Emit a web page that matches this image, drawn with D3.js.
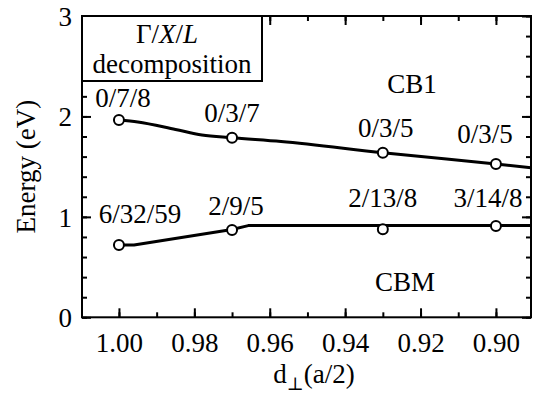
<!DOCTYPE html>
<html>
<head>
<meta charset="utf-8">
<script src="https://cdn.jsdelivr.net/npm/d3@7"></script>
<style>
  html, body { margin: 0; padding: 0; background: #fff; }
  svg { display: block; }
  svg text { font-family: "Liberation Serif", Tinos, "Times New Roman", Times, "DejaVu Serif", "Noto Serif", serif !important; fill: #000; }
</style>
</head>
<body>
<svg id="chart" width="537" height="396"></svg>
<script>
// Sampled spacings d_perp (units of a/2)
const spacings = [1.00, 0.97, 0.93, 0.90];

// Band energies (eV) at the sampled spacings
const cb1Energy = [1.965, 1.788, 1.639, 1.526];
const cbmEnergy = [0.72, 0.87, 0.876, 0.91];

// Gamma/X/L decomposition labels
const cb1Labels = ["0/7/8", "0/3/7", "0/3/5", "0/3/5"];
const cbmLabels = ["6/32/59", "2/9/5", "2/13/8", "3/14/8"];

// Continuous band curves
const cb1CurveX = [1.00, 0.995, 0.985, 0.978, 0.97, 0.957, 0.93, 0.90, 0.8907];
const cb1CurveE = [1.965, 1.945, 1.87, 1.815, 1.788, 1.75, 1.639, 1.526, 1.49];
const cbmCurveX = [1.00, 0.996, 0.97, 0.9657, 0.8907];
const cbmCurveE = [0.72, 0.72, 0.875, 0.913, 0.913];

// Axis ticks
const xMajor = [1.00, 0.98, 0.96, 0.94, 0.92, 0.90];
const xMinor = [1.00, 0.99, 0.98, 0.97, 0.96, 0.95, 0.94, 0.93, 0.92, 0.91, 0.90];
const yMajor = [0, 1, 2, 3];
const yMinor = [0, 0.2, 0.4, 0.6, 0.8, 1, 1.2, 1.4, 1.6, 1.8, 2, 2.2, 2.4, 2.6, 2.8, 3];

// Label nudges (pixels) relative to each marker
const cb1LabelShift = [[4, -13], [0, -16], [3, -16], [-11, -21]];
const cbmLabelShift = [[21, -22], [4, -15], [0, -22], [-8, -19]];

const FONT = 27;
const L = 82, R = 531, T = 16, B = 317.3;

const svg = d3.select("#chart");
const x = d3.scaleLinear().domain([1.0098, 0.8907]).range([L, R]);
const y = d3.scaleLinear().domain([0, 3]).range([B, T]);

function styleAxis(g) {
  g.attr("font-family", null).attr("font-size", null);
  g.select(".domain").remove();
  g.selectAll(".tick line").attr("stroke", "#000").attr("stroke-width", 2);
}

// minor ticks (all four sides, pointing inward)
svg.append("g").attr("transform", `translate(0,${B})`)
  .call(d3.axisBottom(x).tickValues(xMinor).tickSize(-5).tickFormat(""))
  .call(styleAxis);
svg.append("g").attr("transform", `translate(0,${T})`)
  .call(d3.axisTop(x).tickValues(xMinor).tickSize(-5).tickFormat(""))
  .call(styleAxis);
svg.append("g").attr("transform", `translate(${L},0)`)
  .call(d3.axisLeft(y).tickValues(yMinor).tickSize(-5).tickFormat(""))
  .call(styleAxis);
svg.append("g").attr("transform", `translate(${R},0)`)
  .call(d3.axisRight(y).tickValues(yMinor).tickSize(-5).tickFormat(""))
  .call(styleAxis);

// major ticks
const xb = svg.append("g").attr("transform", `translate(0,${B})`)
  .call(d3.axisBottom(x).tickValues(xMajor).tickSize(-9).tickPadding(0).tickFormat(d3.format(".2f")))
  .call(styleAxis);
xb.selectAll(".tick text").attr("y", 35).attr("dy", null)
  .style("font-size", FONT + "px");
svg.append("g").attr("transform", `translate(0,${T})`)
  .call(d3.axisTop(x).tickValues(xMajor).tickSize(-9).tickFormat(""))
  .call(styleAxis);
const yl = svg.append("g").attr("transform", `translate(${L},0)`)
  .call(d3.axisLeft(y).tickValues(yMajor).tickSize(-9).tickFormat(d3.format("d")))
  .call(styleAxis);
yl.selectAll(".tick text").attr("x", -10).attr("dy", "0.34em")
  .style("font-size", FONT + "px");
svg.append("g").attr("transform", `translate(${R},0)`)
  .call(d3.axisRight(y).tickValues(yMajor).tickSize(-9).tickFormat(""))
  .call(styleAxis);

// frame
svg.append("rect").attr("x", L).attr("y", T).attr("width", R - L).attr("height", B - T)
  .attr("fill", "none").attr("stroke", "#000").attr("stroke-width", 2);

// band curves
const cb1Curve = cb1CurveX.map((d, i) => [d, cb1CurveE[i]]);
const cbmCurve = cbmCurveX.map((d, i) => [d, cbmCurveE[i]]);
const smooth = d3.line().x(d => x(d[0])).y(d => y(d[1])).curve(d3.curveMonotoneX);
const straight = d3.line().x(d => x(d[0])).y(d => y(d[1]));
svg.append("path").attr("d", smooth(cb1Curve))
  .attr("fill", "none").attr("stroke", "#000").attr("stroke-width", 3);
svg.append("path").attr("d", straight(cbmCurve))
  .attr("fill", "none").attr("stroke", "#000").attr("stroke-width", 3)
  .attr("stroke-linejoin", "round");

// markers + decomposition labels
function drawSeries(values, labels, shifts) {
  const pts = spacings.map((d, i) => ({ d, e: values[i], label: labels[i], s: shifts[i] }));
  svg.append("g").selectAll("circle").data(pts).join("circle")
    .attr("cx", p => x(p.d)).attr("cy", p => y(p.e)).attr("r", 5)
    .attr("fill", "#fff").attr("stroke", "#000").attr("stroke-width", 2);
  svg.append("g").selectAll("text").data(pts).join("text")
    .attr("x", p => x(p.d) + p.s[0]).attr("y", p => y(p.e) + p.s[1])
    .attr("text-anchor", "middle").style("font-size", FONT + "px")
    .text(p => p.label);
}
drawSeries(cb1Energy, cb1Labels, cb1LabelShift);
drawSeries(cbmEnergy, cbmLabels, cbmLabelShift);

// band names
svg.append("text").attr("x", 412).attr("y", 93).attr("text-anchor", "middle")
  .style("font-size", FONT + "px").text("CB1");
svg.append("text").attr("x", 405).attr("y", 291).attr("text-anchor", "middle")
  .style("font-size", FONT + "px").text("CBM");

// decomposition key box
svg.append("rect").attr("x", L).attr("y", T).attr("width", 180).attr("height", 65)
  .attr("fill", "#fff").attr("stroke", "#000").attr("stroke-width", 2);
const key = svg.append("text").attr("x", 167).attr("y", 43).attr("text-anchor", "middle")
  .style("font-size", FONT + "px");
key.append("tspan").text("Γ/");
key.append("tspan").style("font-style", "italic").text("X");
key.append("tspan").text("/");
key.append("tspan").style("font-style", "italic").text("L");
svg.append("text").attr("x", 172).attr("y", 73).attr("text-anchor", "middle")
  .style("font-size", FONT + "px").text("decomposition");

// axis titles
svg.append("text").attr("transform", `translate(35,${(T + B) / 2}) rotate(-90)`)
  .attr("text-anchor", "middle").style("font-size", FONT + "px").text("Energy (eV)");
const xt = svg.append("text").attr("x", 314).attr("y", 383).attr("text-anchor", "middle")
  .style("font-size", FONT + "px");
xt.append("tspan").text("d");
xt.append("tspan").attr("dy", 7).style("font-size", "18px").text("⊥");
xt.append("tspan").attr("dy", -7).text("(a/2)");
</script>
</body>
</html>
